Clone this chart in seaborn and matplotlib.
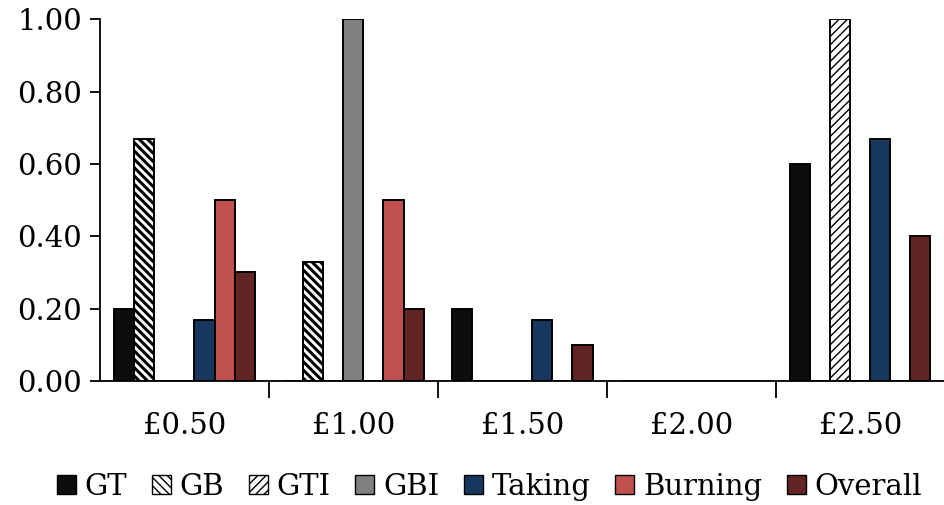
import matplotlib
matplotlib.use("Agg")
import matplotlib.pyplot as plt
import seaborn as sns
import pandas as pd
from matplotlib.ticker import FixedLocator, NullFormatter
from matplotlib.patches import Patch

categories = ["£0.50", "£1.00", "£1.50", "£2.00", "£2.50"]
series = ["GT", "GB", "GTI", "GBI", "Taking", "Burning", "Overall"]
gt = [0.20, 0.00, 0.20, 0.00, 0.60]
gb = [0.67, 0.33, 0.00, 0.00, 0.00]
gti = [0.00, 0.00, 0.00, 0.00, 1.00]
gbi = [0.00, 1.00, 0.00, 0.00, 0.00]
taking = [0.17, 0.00, 0.17, 0.00, 0.67]
burning = [0.50, 0.50, 0.00, 0.00, 0.00]
overall = [0.30, 0.20, 0.10, 0.00, 0.40]
y_ticks = [0.0, 0.2, 0.4, 0.6, 0.8, 1.0]

colors = {"GT": "#0d0d0d", "GB": "#ffffff", "GTI": "#ffffff", "GBI": "#808080",
          "Taking": "#17375e", "Burning": "#c0504d", "Overall": "#632523"}
hatches = {"GB": "\\\\\\\\", "GTI": "////"}
hatch_colors = {"GB": "#000000", "GTI": "#3a3a3a"}
hatch_widths = {"GB": 2.2, "GTI": 1.0}

values = [gt, gb, gti, gbi, taking, burning, overall]
rows = []
for name, vals in zip(series, values):
    for cat, v in zip(categories, vals):
        rows.append({"Price": cat, "Series": name, "Value": v})
df = pd.DataFrame(rows)

sns.set_style("white")
plt.rcParams["font.family"] = ["DejaVu Serif"]
plt.rcParams["text.color"] = "#000000"
plt.rcParams["xtick.color"] = "#000000"
plt.rcParams["ytick.color"] = "#000000"
plt.rcParams["axes.labelcolor"] = "#000000"


def style_hatch(patch, name):
    patch.set_hatch(hatches[name])
    try:
        patch.set_hatchcolor(hatch_colors[name])
    except AttributeError:
        pass
    try:
        patch.set_hatch_linewidth(hatch_widths[name])
    except AttributeError:
        pass


fig = plt.figure(figsize=(9.45, 5.05), dpi=100)
ax = fig.add_axes([0.1058, 0.2455, 0.894, 0.7165])

sns.barplot(data=df, x="Price", y="Value", hue="Series", order=categories,
            hue_order=series, palette=colors, saturation=1, edgecolor="#000000",
            linewidth=1.4, width=0.83, ax=ax, legend=False)

for container, name in zip(ax.containers, series):
    if name in hatches:
        for bar in container:
            style_hatch(bar, name)

ax.set_xlim(-0.5, 4.5)
ax.set_ylim(0, 1.0)
ax.set_yticks(y_ticks)
ax.set_yticklabels([f"{t:.2f}" for t in y_ticks], fontsize=21)
ax.set_xlabel("")
ax.set_ylabel("")
ax.tick_params(axis="x", which="major", length=0, labelsize=21, pad=22)
ax.xaxis.set_minor_locator(FixedLocator([0.5, 1.5, 2.5, 3.5]))
ax.xaxis.set_minor_formatter(NullFormatter())
ax.tick_params(axis="x", which="minor", length=12, width=1.3, direction="out",
               bottom=True, color="#000000")
ax.tick_params(axis="y", length=7, width=1.3, direction="out", left=True,
               color="#000000", pad=6)
for s in ["top", "right"]:
    ax.spines[s].set_visible(False)
for s in ["left", "bottom"]:
    ax.spines[s].set_color("#000000")
    ax.spines[s].set_linewidth(1.3)

handles = []
for name in series:
    h = Patch(facecolor=colors[name], edgecolor="#000000", linewidth=1.0)
    if name in hatches:
        style_hatch(h, name)
    handles.append(h)
leg = fig.legend(handles, series, loc="center", bbox_to_anchor=(0.518, 0.036),
                 ncol=7, frameon=False, fontsize=21, handlelength=0.65,
                 handleheight=0.65, handletextpad=0.3, columnspacing=0.85)

fig.savefig("out.png", dpi=100)
